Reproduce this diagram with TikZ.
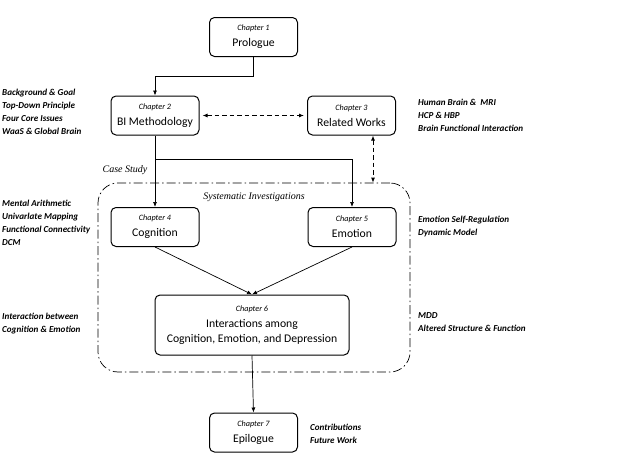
\documentclass[tikz,border=0pt]{standalone}
\usepackage{fontspec}
\setmainfont{Carlito}
\newfontfamily\serifit{Liberation Serif}
\usetikzlibrary{arrows.meta,positioning,calc}
\newcommand\chapno[1]{{\fontsize{8.2}{10}\selectfont\itshape Chapter #1}}

\begin{document}
\begin{tikzpicture}[
  x=1pt, y=-1pt,
  chap/.style={rectangle, rounded corners=5pt, draw=black, line width=1pt, fill=white,
    minimum width=88pt, minimum height=39pt, align=center, inner sep=2pt,
    font=\fontsize{11.7}{16}\selectfont, execute at begin node={\rule{0pt}{11pt}}},
  wide/.style={chap, minimum width=194pt, minimum height=60pt,
    font=\fontsize{11.7}{15}\selectfont, execute at begin node={}},
  note/.style={anchor=west, align=left, inner sep=0pt,
    font=\fontsize{9.1}{13}\selectfont\bfseries\itshape},
  case/.style={inner sep=0pt, font=\serifit\fontsize{10}{12}\selectfont\itshape},
  arr/.style={-{Latex[length=5pt,width=4pt]}, black, line width=0.7pt},
  darr/.style={{Latex[length=5pt,width=4pt]}-{Latex[length=5pt,width=4pt]}, black,
    line width=0.9pt, dash pattern=on 4.5pt off 3pt},
]
  \useasboundingbox (0,0) rectangle (633,463);

  % systematic investigations frame
  \node[draw=black, line width=0.7pt, rounded corners=20pt,
    dash pattern=on 9pt off 3pt on 1.5pt off 3pt,
    minimum width=312pt, minimum height=189pt] (frame) at (254,277.5) {};
  \node[case] (casestudy) at (125,170) {Case Study};
  \node[case] (sysinv) at (254,197) {Systematic Investigations};

  % chapters
  \node[chap] (pro) at (253.5,37) {\chapno{1}\\Prologue};
  \node[chap] (bim) at (155,115.5) {\chapno{2}\\BI Methodology};
  \node[chap] (rel) at (351.5,115.5) {\chapno{3}\\Related Works};
  \node[chap] (cog) at (155,227) {\chapno{4}\\Cognition};
  \node[chap] (emo) at (352,227) {\chapno{5}\\Emotion};
  \node[wide] (inter) at (252,325) {\chapno{6}\\[1pt]Interactions among\\Cognition, Emotion, and Depression};
  \node[chap] (epi) at (253.5,432.5) {\chapno{7}\\Epilogue};

  % side notes
  \node[note] (n2) at (2,112) {Background \& Goal\\Top-Down Principle\\Four Core Issues\\WaaS \& Global Brain};
  \node[note] (n3) at (418,115) {Human Brain \&\ \ MRI\\HCP \& HBP\\Brain Functional Interaction};
  \node[note] (n4) at (2,223) {Mental Arithmetic\\Univarlate Mapping\\Functional Connectivity\\DCM};
  \node[note] (n5) at (418,226.5) {Emotion Self-Regulation\\Dynamic Model};
  \node[note] (n6a) at (2,323.5) {Interaction between\\Cognition \& Emotion};
  \node[note] (n6b) at (418,322.5) {MDD\\Altered Structure \& Function};
  \node[note] (n7) at (310,433.5) {Contributions\\Future Work};

  % connectors
  \coordinate (split) at (155,159);
  \draw[arr] (pro.south) -- ++(0,19) -| (bim.north);
  \draw[darr, shorten <=3pt, shorten >=3pt] (bim.east) -- (rel.west);
  \draw[darr] ([xshift=21.5pt]rel.south) -- ([xshift=21.5pt]rel.south |- frame.north);
  \draw[arr] (bim.south) -- (cog.north);
  \draw[arr] (split) -| (emo.north);
  \draw[arr] (cog.south) -- (inter.north);
  \draw[arr] (emo.south) -- (inter.north);
  \draw[arr] (inter.south) -- (epi.north);
\end{tikzpicture}
\end{document}
